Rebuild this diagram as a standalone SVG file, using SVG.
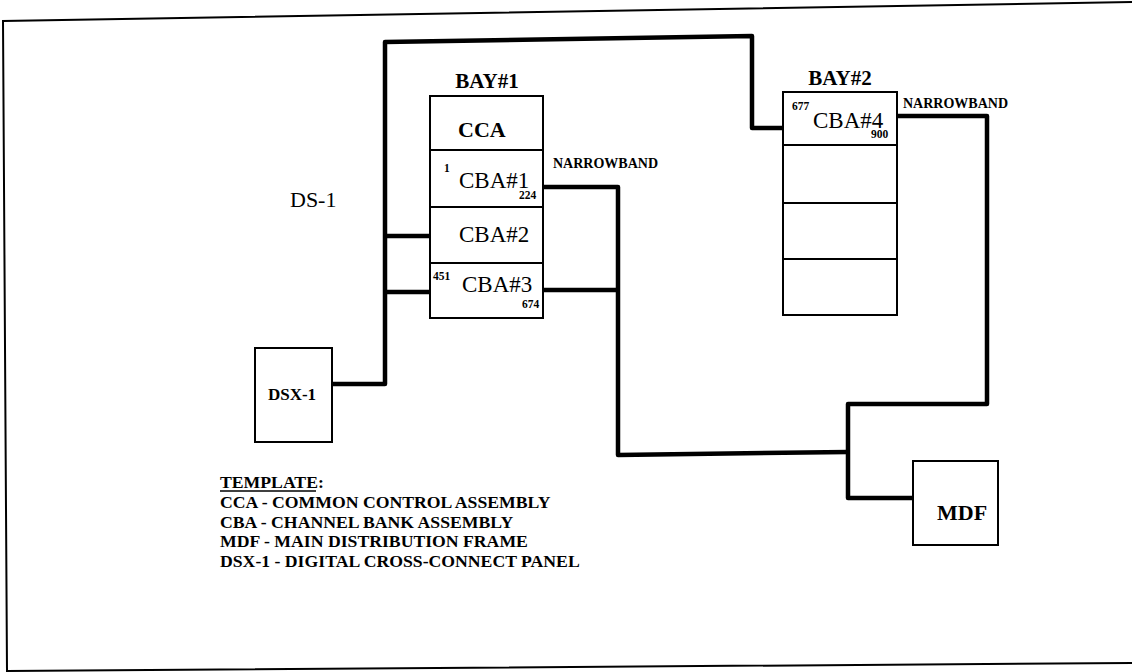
<svg xmlns="http://www.w3.org/2000/svg" width="1132" height="672" viewBox="0 0 1132 672">
<style>
.frame{fill:none;stroke:#000;stroke-width:2}
.box{fill:#fff;stroke:#000;stroke-width:2}
.div{stroke:#000;stroke-width:2}
.conn{fill:none;stroke:#000;stroke-width:4.5;stroke-linejoin:round;stroke-linecap:butt}
.b{font-family:"Liberation Serif",serif;font-weight:bold;fill:#000}
.r{font-family:"Liberation Serif",serif;fill:#000}
.lbl{font-size:22px}
.cba{font-size:23px}
.num{font-size:11.5px}
.nb{font-size:14px}
.leg{font-size:17.7px}
</style>
<rect width="1132" height="672" fill="#fff"/>
<path class="frame" d="M1132,2 L3,21 L7,671 L1132,663"/>
<g id="connectors">
<path class="conn" d="M332,384 H385 V42 L752,36 V128 H783"/>
<path class="conn" d="M385,236 H430 M385,292 H430"/>
<path class="conn" d="M543,187 H618 V455 L848,452 M543,290 H618"/>
<path class="conn" d="M897,116 H987 V404 H848 V498 H913"/>
</g>
<g id="bay1">
<text class="b" x="487" y="88" font-size="21" text-anchor="middle">BAY#1</text>
<rect class="box" x="430" y="96" width="113" height="222"/>
<line class="div" x1="430" y1="150" x2="543" y2="150"/>
<line class="div" x1="430" y1="207" x2="543" y2="207"/>
<line class="div" x1="430" y1="263" x2="543" y2="263"/>
</g>
<g id="cca"><text class="b lbl" x="458" y="137">CCA</text></g>
<g id="cba1">
<text class="b num" x="444" y="172">1</text>
<text class="r cba" x="459" y="188">CBA#1</text>
<text class="b num" x="519" y="199">224</text>
</g>
<g id="cba2"><text class="r cba" x="459" y="242">CBA#2</text></g>
<g id="cba3">
<text class="b num" x="433" y="280">451</text>
<text class="r cba" x="462" y="292">CBA#3</text>
<text class="b num" x="522" y="308">674</text>
</g>
<g id="nb1"><text class="b nb" x="553" y="168">NARROWBAND</text></g>
<g id="bay2">
<text class="b" x="840" y="85" font-size="21" text-anchor="middle">BAY#2</text>
<rect class="box" x="783" y="92" width="114" height="223"/>
<line class="div" x1="783" y1="145" x2="897" y2="145"/>
<line class="div" x1="783" y1="203" x2="897" y2="203"/>
<line class="div" x1="783" y1="259" x2="897" y2="259"/>
</g>
<g id="cba4">
<text class="b num" x="792" y="110">677</text>
<text class="r cba" x="813" y="128">CBA#4</text>
<text class="b num" x="871" y="138">900</text>
</g>
<g id="nb2"><text class="b nb" x="903" y="108">NARROWBAND</text></g>
<g id="ds1"><text class="r lbl" x="290" y="207">DS-1</text></g>
<g id="dsx1">
<rect class="box" x="255" y="348" width="77" height="94"/>
<text class="b" x="292" y="400" font-size="17" text-anchor="middle">DSX-1</text>
</g>
<g id="mdf">
<rect class="box" x="913" y="461" width="85" height="84"/>
<text class="b lbl" x="937" y="520">MDF</text>
</g>
<g id="legend">
<text class="b leg" x="220" y="488">TEMPLATE:</text>
<line x1="220" y1="491" x2="316" y2="491" stroke="#000" stroke-width="1.5"/>
<text class="b leg" x="220" y="508">CCA - COMMON CONTROL ASSEMBLY</text>
<text class="b leg" x="220" y="528">CBA - CHANNEL BANK ASSEMBLY</text>
<text class="b leg" x="220" y="547">MDF - MAIN DISTRIBUTION FRAME</text>
<text class="b leg" x="220" y="567">DSX-1 - DIGITAL CROSS-CONNECT PANEL</text>
</g>
</svg>
